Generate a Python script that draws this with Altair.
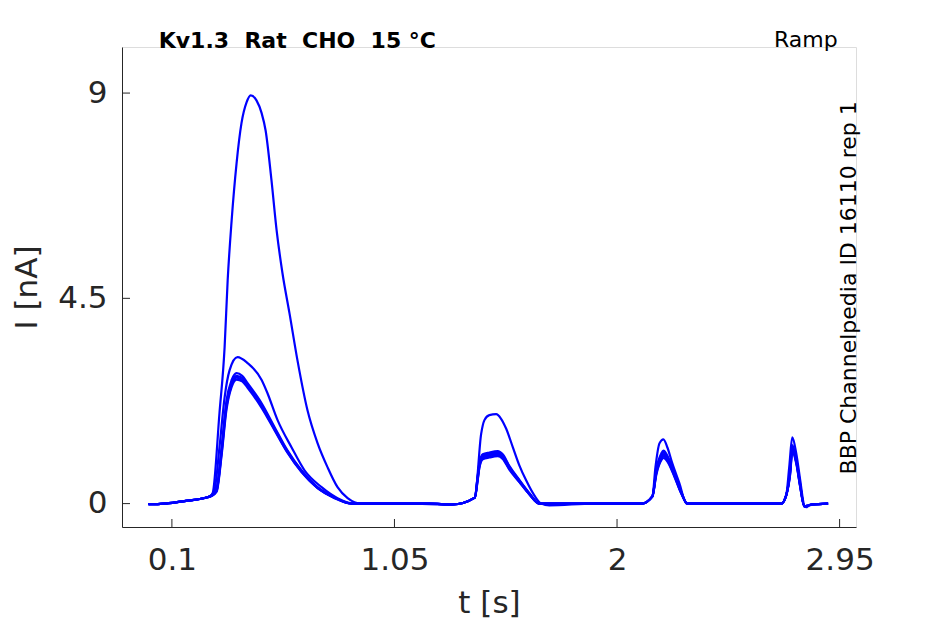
import altair as alt
import pandas as pd

# ---- data ----
BIG_T = [0.0, 0.04, 0.073, 0.16, 0.252, 0.262, 0.274, 0.303, 0.325, 0.338,
         0.355, 0.376, 0.397, 0.419, 0.436, 0.461, 0.483, 0.500, 0.525, 0.547,
         0.572, 0.602, 0.636, 0.679, 0.722, 0.764, 0.807, 0.850, 0.909, 1.10,
         1.298, 1.393, 1.420, 1.434, 1.455, 1.484, 1.505, 1.527, 1.555, 1.583,
         1.612, 1.647, 1.676, 1.711, 1.90, 2.104, 2.151, 2.164, 2.181, 2.198,
         2.215, 2.236, 2.266, 2.296, 2.50, 2.701, 2.722, 2.735, 2.748, 2.765,
         2.782, 2.799, 2.807, 2.820, 2.86, 2.901]
BIG_I = [-0.01, -0.01, 0.0, 0.06, 0.14, 0.16, 0.23, 1.98, 3.43, 4.89,
         6.21, 7.46, 8.34, 8.80, 8.95, 8.84, 8.56, 8.18, 7.09, 5.99,
         5.05, 4.17, 3.14, 2.04, 1.32, 0.80, 0.36, 0.12, 0.0, 0.0,
         -0.02, 0.13, 1.53, 1.83, 1.94, 1.96, 1.86, 1.64, 1.24, 0.84,
         0.51, 0.18, 0.0, -0.04, 0.0, 0.0, 0.16, 0.80, 1.32, 1.41,
         1.23, 0.88, 0.45, 0.0, 0.0, 0.0, 0.18, 0.80, 1.45, 1.10,
         0.51, -0.04, -0.08, -0.04, -0.01, 0.0]

MID_T = [0.0, 0.04, 0.073, 0.16, 0.252, 0.268, 0.282, 0.303, 0.325, 0.346,
         0.380, 0.423, 0.483, 0.508, 0.551, 0.611, 0.666, 0.739, 0.807, 0.879,
         1.00, 1.20, 1.298, 1.393, 1.405, 1.413, 1.427, 1.455, 1.491, 1.512,
         1.541, 1.583, 1.626, 1.668, 1.80, 2.00, 2.104, 2.151, 2.168, 2.189,
         2.198, 2.215, 2.244, 2.274, 2.300, 2.50, 2.701, 2.722, 2.739, 2.748,
         2.765, 2.782, 2.799, 2.81, 2.83, 2.901]
MID_I = [-0.01, -0.01, 0.0, 0.06, 0.14, 0.18, 0.30, 1.23, 2.33, 2.92,
         3.21, 3.08, 2.71, 2.42, 1.83, 1.23, 0.73, 0.36, 0.12, 0.0,
         0.0, 0.0, -0.02, 0.13, 0.60, 0.90, 1.08, 1.12, 1.15, 1.08,
         0.82, 0.52, 0.23, 0.0, 0.0, 0.0, 0.0, 0.16, 0.76, 1.10,
         1.16, 1.05, 0.69, 0.26, 0.0, 0.0, 0.0, 0.18, 0.76, 1.28,
         0.98, 0.42, -0.06, -0.05, -0.02, 0.0]

LOW_T = [0.0, 0.04, 0.073, 0.16, 0.252, 0.270, 0.291, 0.312, 0.333, 0.355,
         0.376, 0.400, 0.423, 0.483, 0.539, 0.594, 0.653, 0.722, 0.794, 0.867,
         1.00, 1.20, 1.298, 1.393, 1.405, 1.413, 1.427, 1.455, 1.491, 1.512,
         1.541, 1.583, 1.626, 1.668, 1.80, 2.00, 2.104, 2.151, 2.168, 2.189,
         2.198, 2.215, 2.244, 2.274, 2.300, 2.50, 2.701, 2.722, 2.739, 2.748,
         2.765, 2.782, 2.799, 2.81, 2.83, 2.901]
LOW1_I = [-0.01, -0.01, 0.0, 0.06, 0.14, 0.18, 0.35, 1.23, 2.26, 2.71,
          2.86, 2.80, 2.64, 2.20, 1.67, 1.16, 0.73, 0.36, 0.14, 0.0,
          0.0, 0.0, -0.02, 0.13, 0.58, 0.88, 1.06, 1.10, 1.13, 1.06,
          0.80, 0.51, 0.22, 0.0, 0.0, 0.0, 0.0, 0.16, 0.73, 1.06,
          1.12, 1.01, 0.66, 0.25, 0.0, 0.0, 0.0, 0.18, 0.73, 1.23,
          0.95, 0.40, -0.06, -0.05, -0.02, 0.0]
LOW2_I = [-0.01, -0.01, 0.0, 0.06, 0.14, 0.17, 0.30, 1.15, 2.18, 2.65,
          2.80, 2.75, 2.60, 2.16, 1.64, 1.14, 0.72, 0.35, 0.13, 0.0,
          0.0, 0.0, -0.02, 0.13, 0.55, 0.85, 1.03, 1.07, 1.10, 1.03,
          0.78, 0.50, 0.21, 0.0, 0.0, 0.0, 0.0, 0.16, 0.70, 1.02,
          1.08, 0.98, 0.64, 0.24, 0.0, 0.0, 0.0, 0.18, 0.70, 1.20,
          0.92, 0.38, -0.06, -0.05, -0.02, 0.0]
LOW3_I = [-0.01, -0.01, 0.0, 0.06, 0.14, 0.17, 0.28, 1.10, 2.12, 2.60,
          2.76, 2.71, 2.57, 2.13, 1.62, 1.12, 0.70, 0.34, 0.13, 0.0,
          0.0, 0.0, -0.02, 0.13, 0.52, 0.82, 1.00, 1.04, 1.07, 1.00,
          0.76, 0.48, 0.20, 0.0, 0.0, 0.0, 0.0, 0.16, 0.67, 0.98,
          1.04, 0.95, 0.62, 0.23, 0.0, 0.0, 0.0, 0.18, 0.67, 1.17,
          0.90, 0.37, -0.06, -0.05, -0.02, 0.0]
LOW4_I = [-0.01, -0.01, 0.0, 0.06, 0.14, 0.17, 0.26, 1.05, 2.06, 2.56,
          2.72, 2.68, 2.54, 2.10, 1.60, 1.11, 0.69, 0.34, 0.12, 0.0,
          0.0, 0.0, -0.02, 0.13, 0.50, 0.80, 0.97, 1.01, 1.04, 0.98,
          0.74, 0.47, 0.20, 0.0, 0.0, 0.0, 0.0, 0.16, 0.64, 0.95,
          1.00, 0.92, 0.60, 0.22, 0.0, 0.0, 0.0, 0.18, 0.64, 1.14,
          0.88, 0.36, -0.06, -0.05, -0.02, 0.0]

X_TICKS = [0.1, 1.05, 2, 2.95]
Y_TICKS = [0, 4.5, 9]
X_DOMAIN = [-0.113, 3.02]
Y_DOMAIN = [-0.513, 10.01]

TITLE_TEXT = "Kv1.3\u00a0\u00a0Rat\u00a0\u00a0CHO\u00a0\u00a015\u00a0°C"
PROTOCOL = "Ramp"
SIDE_TEXT = "BBP Channelpedia ID 16110 rep 1"

traces = [("big", BIG_T, BIG_I), ("mid", MID_T, MID_I),
          ("low1", LOW_T, LOW1_I), ("low2", LOW_T, LOW2_I),
          ("low3", LOW_T, LOW3_I), ("low4", LOW_T, LOW4_I)]
rows = []
for name, ts, cs in traces:
    for k, (t, c) in enumerate(zip(ts, cs)):
        rows.append({"t": t, "i": c, "trace": name, "k": k})
df = pd.DataFrame(rows)

FONT = "DejaVu Sans"
AX = "#262626"

xscale = alt.Scale(domain=X_DOMAIN, nice=False, zero=False)
yscale = alt.Scale(domain=Y_DOMAIN, nice=False, zero=False)

lines = alt.Chart(df).mark_line(color="#0000FF", strokeWidth=2.2,
                                interpolate="monotone").encode(
    x=alt.X("t:Q", scale=xscale,
            axis=alt.Axis(values=X_TICKS, labelExpr="'' + datum.value",
                          ticks=False, grid=False,
                          domainColor=AX, domainWidth=1, labelColor=AX,
                          labelFont=FONT, labelFontSize=31, labelPadding=18,
                          title="t [s]", titleFont=FONT, titleFontSize=31,
                          titleFontWeight="normal", titleColor=AX,
                          titlePadding=13, labelFlush=False)),
    y=alt.Y("i:Q", scale=yscale,
            axis=alt.Axis(values=Y_TICKS, labelExpr="'' + datum.value",
                          ticks=False, grid=False,
                          domainColor=AX, domainWidth=1, labelColor=AX,
                          labelFont=FONT, labelFontSize=31, labelPadding=15,
                          title="I [nA]", titleFont=FONT, titleFontSize=31,
                          titleFontWeight="normal", titleColor=AX,
                          titlePadding=14, labelFlush=False)),
    detail="trace:N",
    order="k:Q",
)

xt = alt.Chart(pd.DataFrame({"v": X_TICKS})).mark_rule(color=AX, strokeWidth=1).encode(
    x=alt.X("v:Q", scale=xscale), y=alt.value(480), y2=alt.value(472))
yt = alt.Chart(pd.DataFrame({"v": Y_TICKS})).mark_rule(color=AX, strokeWidth=1).encode(
    y=alt.Y("v:Q", scale=yscale), x=alt.value(0), x2=alt.value(8))

one = pd.DataFrame({"a": [0]})
title = alt.Chart(one).mark_text(text=TITLE_TEXT, font=FONT, fontSize=22,
                                 fontWeight="bold", align="left",
                                 baseline="alphabetic", color="black").encode(
    x=alt.value(36.7), y=alt.value(0.6))
proto = alt.Chart(one).mark_text(text=PROTOCOL, font=FONT, fontSize=22,
                                 align="right", baseline="alphabetic",
                                 color="black").encode(
    x=alt.value(715.7), y=alt.value(0))
side = alt.Chart(one).mark_text(text=SIDE_TEXT, font=FONT, fontSize=22,
                                angle=270, align="center", baseline="alphabetic",
                                color="black").encode(
    x=alt.value(733.7), y=alt.value(240.8))

chart = alt.layer(lines, xt, yt, title, proto, side).properties(
    width=734, height=480,
    padding={"left": 114, "top": 39, "right": 80, "bottom": 96},
    autosize=alt.AutoSizeParams(type="none"),
).configure_view(strokeWidth=0).configure(background="white")

chart.save("out.html", embed_options={"renderer": "svg", "actions": False})
